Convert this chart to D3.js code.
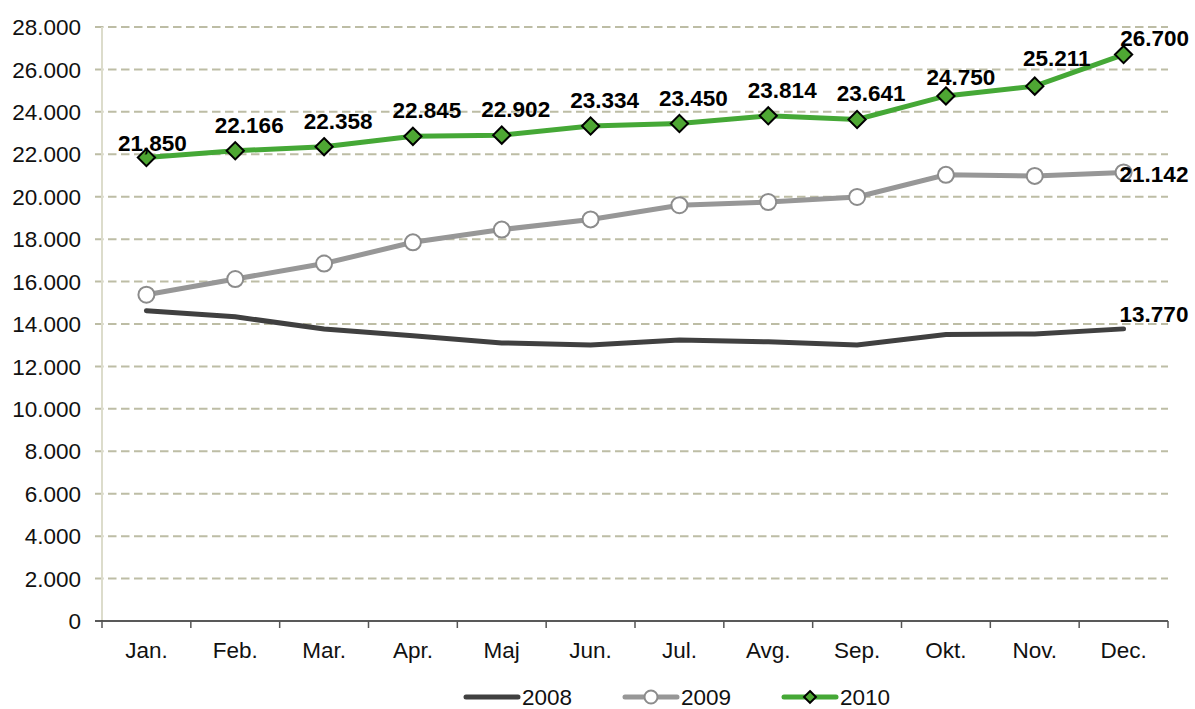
<!DOCTYPE html>
<html>
<head>
<meta charset="utf-8">
<script src="https://cdn.jsdelivr.net/npm/d3@7.9.0/dist/d3.min.js"></script>
<style>
  body { margin: 0; background: #fff; }
  svg { font-family: Arial, "Liberation Sans", sans-serif; }
</style>
</head>
<body>
<svg id="chart" width="1195" height="709"></svg>
<script>
// month categories
const months = ['Jan.', 'Feb.', 'Mar.', 'Apr.', 'Maj', 'Jun.', 'Jul.', 'Avg.', 'Sep.', 'Okt.', 'Nov.', 'Dec.'];

// series values
const values2008 = [14630, 14340, 13760, 13450, 13110, 13010, 13240, 13160, 13010, 13510, 13530, 13770];
const values2009 = [15380, 16120, 16850, 17850, 18450, 18930, 19600, 19750, 19990, 21030, 20980, 21142];
const values2010 = [21850, 22166, 22358, 22845, 22902, 23334, 23450, 23814, 23641, 24750, 25211, 26700];

// data labels as printed
const labels2010 = ['21,850', '22.166', '22.358', '22.845', '22.902', '23.334', '23.450', '23.814', '23.641', '24.750', '25.211', '26.700'];
const label2009Dec = '21.142';
const label2008Dec = '13.770';

// y tick labels
const yTicks = [0, 2000, 4000, 6000, 8000, 10000, 12000, 14000, 16000, 18000, 20000, 22000, 24000, 26000, 28000];
const yTickLabels = ['0', '2.000', '4.000', '6.000', '8.000', '10.000', '12.000', '14.000', '16.000', '18.000', '20.000', '22.000', '24.000', '26.000', '28.000'];

const legendNames = ['2008', '2009', '2010'];

const svg = d3.select('#chart');
const plotLeft = 102, plotRight = 1168, plotTop = 27, plotBottom = 621;
const fs = 22.5;

const x = d3.scaleBand().domain(months).range([plotLeft, plotRight]);
const y = d3.scaleLinear().domain([0, 28000]).range([plotBottom, plotTop]);
const cx = (d, i) => x(months[i]) + x.bandwidth() / 2;

// gridlines
svg.append('g')
  .selectAll('line')
  .data(yTicks.slice(1))
  .join('line')
  .attr('x1', 95).attr('x2', plotRight)
  .attr('y1', d => y(d)).attr('y2', d => y(d))
  .attr('stroke', '#bdbda5')
  .attr('stroke-width', 2)
  .attr('stroke-dasharray', '8.5 4.5');

// left axis line
svg.append('line')
  .attr('x1', plotLeft).attr('x2', plotLeft)
  .attr('y1', plotTop).attr('y2', plotBottom)
  .attr('stroke', '#dcdccb').attr('stroke-width', 2);

// y tick labels
svg.append('g')
  .selectAll('text')
  .data(yTicks)
  .join('text')
  .attr('x', 81)
  .attr('y', d => y(d))
  .attr('dy', '0.36em')
  .attr('text-anchor', 'end')
  .attr('font-size', fs)
  .attr('fill', '#111')
  .text((d, i) => yTickLabels[i]);

// bottom axis
svg.append('line')
  .attr('x1', 95).attr('x2', plotRight)
  .attr('y1', plotBottom).attr('y2', plotBottom)
  .attr('stroke', '#222').attr('stroke-width', 1.5);

svg.append('g')
  .selectAll('line')
  .data(d3.range(months.length + 1))
  .join('line')
  .attr('x1', i => plotLeft + i * x.bandwidth())
  .attr('x2', i => plotLeft + i * x.bandwidth())
  .attr('y1', plotBottom).attr('y2', plotBottom + 7)
  .attr('stroke', '#555').attr('stroke-width', 1.5);

svg.append('g')
  .selectAll('text')
  .data(months)
  .join('text')
  .attr('x', d => x(d) + x.bandwidth() / 2)
  .attr('y', 658)
  .attr('text-anchor', 'middle')
  .attr('font-size', fs)
  .attr('fill', '#111')
  .text(d => d);

const line = d3.line().x(cx).y(d => y(d));

// 2008
svg.append('path')
  .attr('d', line(values2008))
  .attr('fill', 'none')
  .attr('stroke', '#404040')
  .attr('stroke-width', 5)
  .attr('stroke-linecap', 'round');

// 2009
svg.append('path')
  .attr('d', line(values2009))
  .attr('fill', 'none')
  .attr('stroke', '#979797')
  .attr('stroke-width', 5);

svg.append('g')
  .selectAll('circle')
  .data(values2009)
  .join('circle')
  .attr('cx', cx)
  .attr('cy', d => y(d))
  .attr('r', 8)
  .attr('fill', '#fff')
  .attr('stroke', '#8c8c8c')
  .attr('stroke-width', 2);

// 2010
svg.append('path')
  .attr('d', line(values2010))
  .attr('fill', 'none')
  .attr('stroke', '#45a836')
  .attr('stroke-width', 5);

const diamond = d3.symbol().type(d3.symbolDiamond2).size(190);
svg.append('g')
  .selectAll('path')
  .data(values2010)
  .join('path')
  .attr('transform', (d, i) => `translate(${cx(d, i)},${y(d)})`)
  .attr('d', diamond)
  .attr('fill', '#4ea733')
  .attr('stroke', '#000')
  .attr('stroke-width', 2);

// data labels for 2010 (Excel nudged a few to avoid overlap)
const nudge = { 0: [6, -6], 9: [15, -11], 10: [22, -20], 11: [31, -9] };
svg.append('g')
  .selectAll('text')
  .data(values2010)
  .join('text')
  .attr('x', (d, i) => cx(d, i) + (nudge[i] ? nudge[i][0] : 14))
  .attr('y', d => y(d))
  .attr('dy', (d, i) => nudge[i] ? nudge[i][1] : -18)
  .attr('text-anchor', 'middle')
  .attr('font-size', fs)
  .attr('font-weight', 'bold')
  .attr('fill', '#000')
  .text((d, i) => labels2010[i]);

// end labels
const last = months.length - 1;
svg.append('text')
  .attr('x', cx(0, last) - 4)
  .attr('y', y(values2009[last]))
  .attr('dy', 10)
  .attr('font-size', fs)
  .attr('font-weight', 'bold')
  .text(label2009Dec);

svg.append('text')
  .attr('x', cx(0, last) - 4)
  .attr('y', y(values2008[last]))
  .attr('dy', -7)
  .attr('font-size', fs)
  .attr('font-weight', 'bold')
  .text(label2008Dec);

// legend
const legend = svg.append('g').attr('transform', 'translate(464,697)');
const legendX = [0, 159, 318];
legendNames.forEach((name, i) => {
  const g = legend.append('g').attr('transform', `translate(${legendX[i]},0)`);
  g.append('line')
    .attr('x1', 2).attr('x2', 54)
    .attr('y1', 0).attr('y2', 0)
    .attr('stroke', ['#404040', '#979797', '#45a836'][i])
    .attr('stroke-width', 5)
    .attr('stroke-linecap', 'round');
  if (i === 1) {
    g.append('circle').attr('cx', 28).attr('r', 6.5)
      .attr('fill', '#fff').attr('stroke', '#8c8c8c').attr('stroke-width', 2);
  }
  if (i === 2) {
    g.append('path').attr('transform', 'translate(28,0)')
      .attr('d', d3.symbol().type(d3.symbolDiamond2).size(90))
      .attr('fill', '#4ea733').attr('stroke', '#000').attr('stroke-width', 2);
  }
  g.append('text')
    .attr('x', 58).attr('y', 0).attr('dy', '0.36em')
    .attr('font-size', fs)
    .attr('fill', '#111')
    .text(name);
});
</script>
</body>
</html>
